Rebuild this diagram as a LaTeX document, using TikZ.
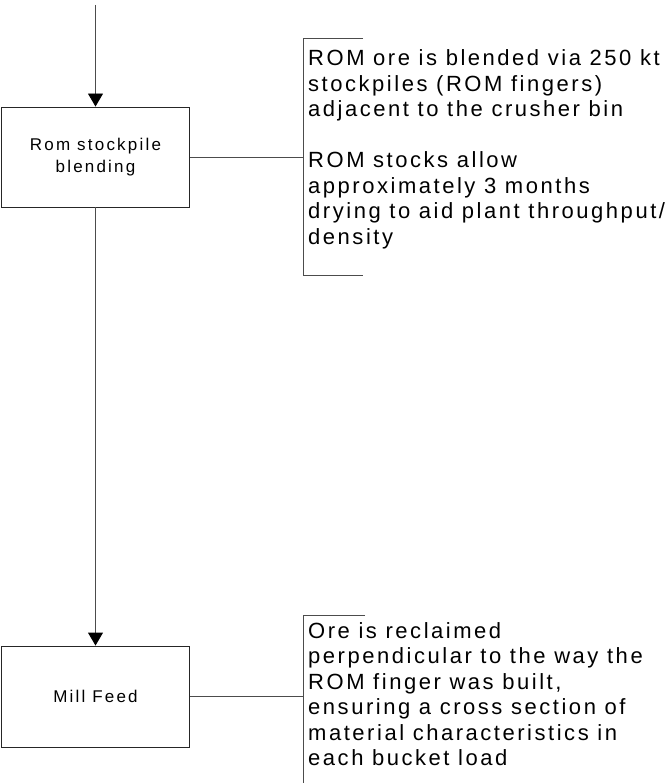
\documentclass[tikz,border=0pt]{standalone}
\usepackage{fontspec}
\usetikzlibrary{arrows.meta}
\newfontfamily\lsfont[LetterSpace=13]{Liberation Sans}
\newfontfamily\lsnote[LetterSpace=11.5]{Liberation Sans}
\tikzset{
  box/.style={draw=black!85, line width=0.9pt, fill=white, minimum width=187.5pt, inner sep=0pt,
    align=center, font=\lsfont\fontsize{17}{22}\selectfont},
  link/.style={draw=black!70, line width=0.9pt},
  arr/.style={link, -{Triangle[length=13pt,width=15pt,color=black,fill=black]}},
  side/.style={inner sep=0pt, anchor=base west, font=\lsnote\fontsize{22}{25.5}\selectfont}
}
\begin{document}
\begin{tikzpicture}[x=1pt,y=-1pt]
\useasboundingbox (0,0) rectangle (670,783);
% boxes
\node[box, minimum height=100pt] (rom) at (95.5,157) {Rom stockpile\\blending};
\node[box, minimum height=101pt] (mill) at (95.5,696.5) {Mill Feed};
% flow
\coordinate (start) at (95.5,5);
\draw[arr] (start) -- (rom.north);
\draw[arr] (rom.south) -- (mill.north);
% bracket 1
\coordinate (b1) at (303,157);
\coordinate (b1t) at (303,38);
\coordinate (b1b) at (303,275);
\coordinate (b1te) at (363,38);
\coordinate (b1be) at (363,275);
\draw[link] (rom.east) -- (b1);
\draw[link] (b1te) -- (b1t) -- (b1b) -- (b1be);
% bracket 2
\coordinate (b2) at (303,696.5);
\coordinate (b2t) at (303,615);
\coordinate (b2b) at (303,783);
\coordinate (b2te) at (365,615);
\draw[link] (mill.east) -- (b2);
\draw[link] (b2te) -- (b2t) -- (b2b);
% notes
\node[side] (note1) at (308,66) {\parbox[t]{420pt}{\raggedright\lsnote\fontsize{22}{25.5}\selectfont
ROM ore is blended via 250 kt\\
stockpiles (ROM fingers)\\
adjacent to the crusher bin\\[25.5pt]
ROM stocks allow\\
approximately 3 months\\
drying to aid plant throughput/\\
density}};
\node[side] (note2) at (308,638) {\parbox[t]{420pt}{\raggedright\lsnote\fontsize{22}{25.5}\selectfont
Ore is reclaimed\\
perpendicular to the way the\\
ROM finger was built,\\
ensuring a cross section of\\
material characteristics in\\
each bucket load}};
\end{tikzpicture}
\end{document}
